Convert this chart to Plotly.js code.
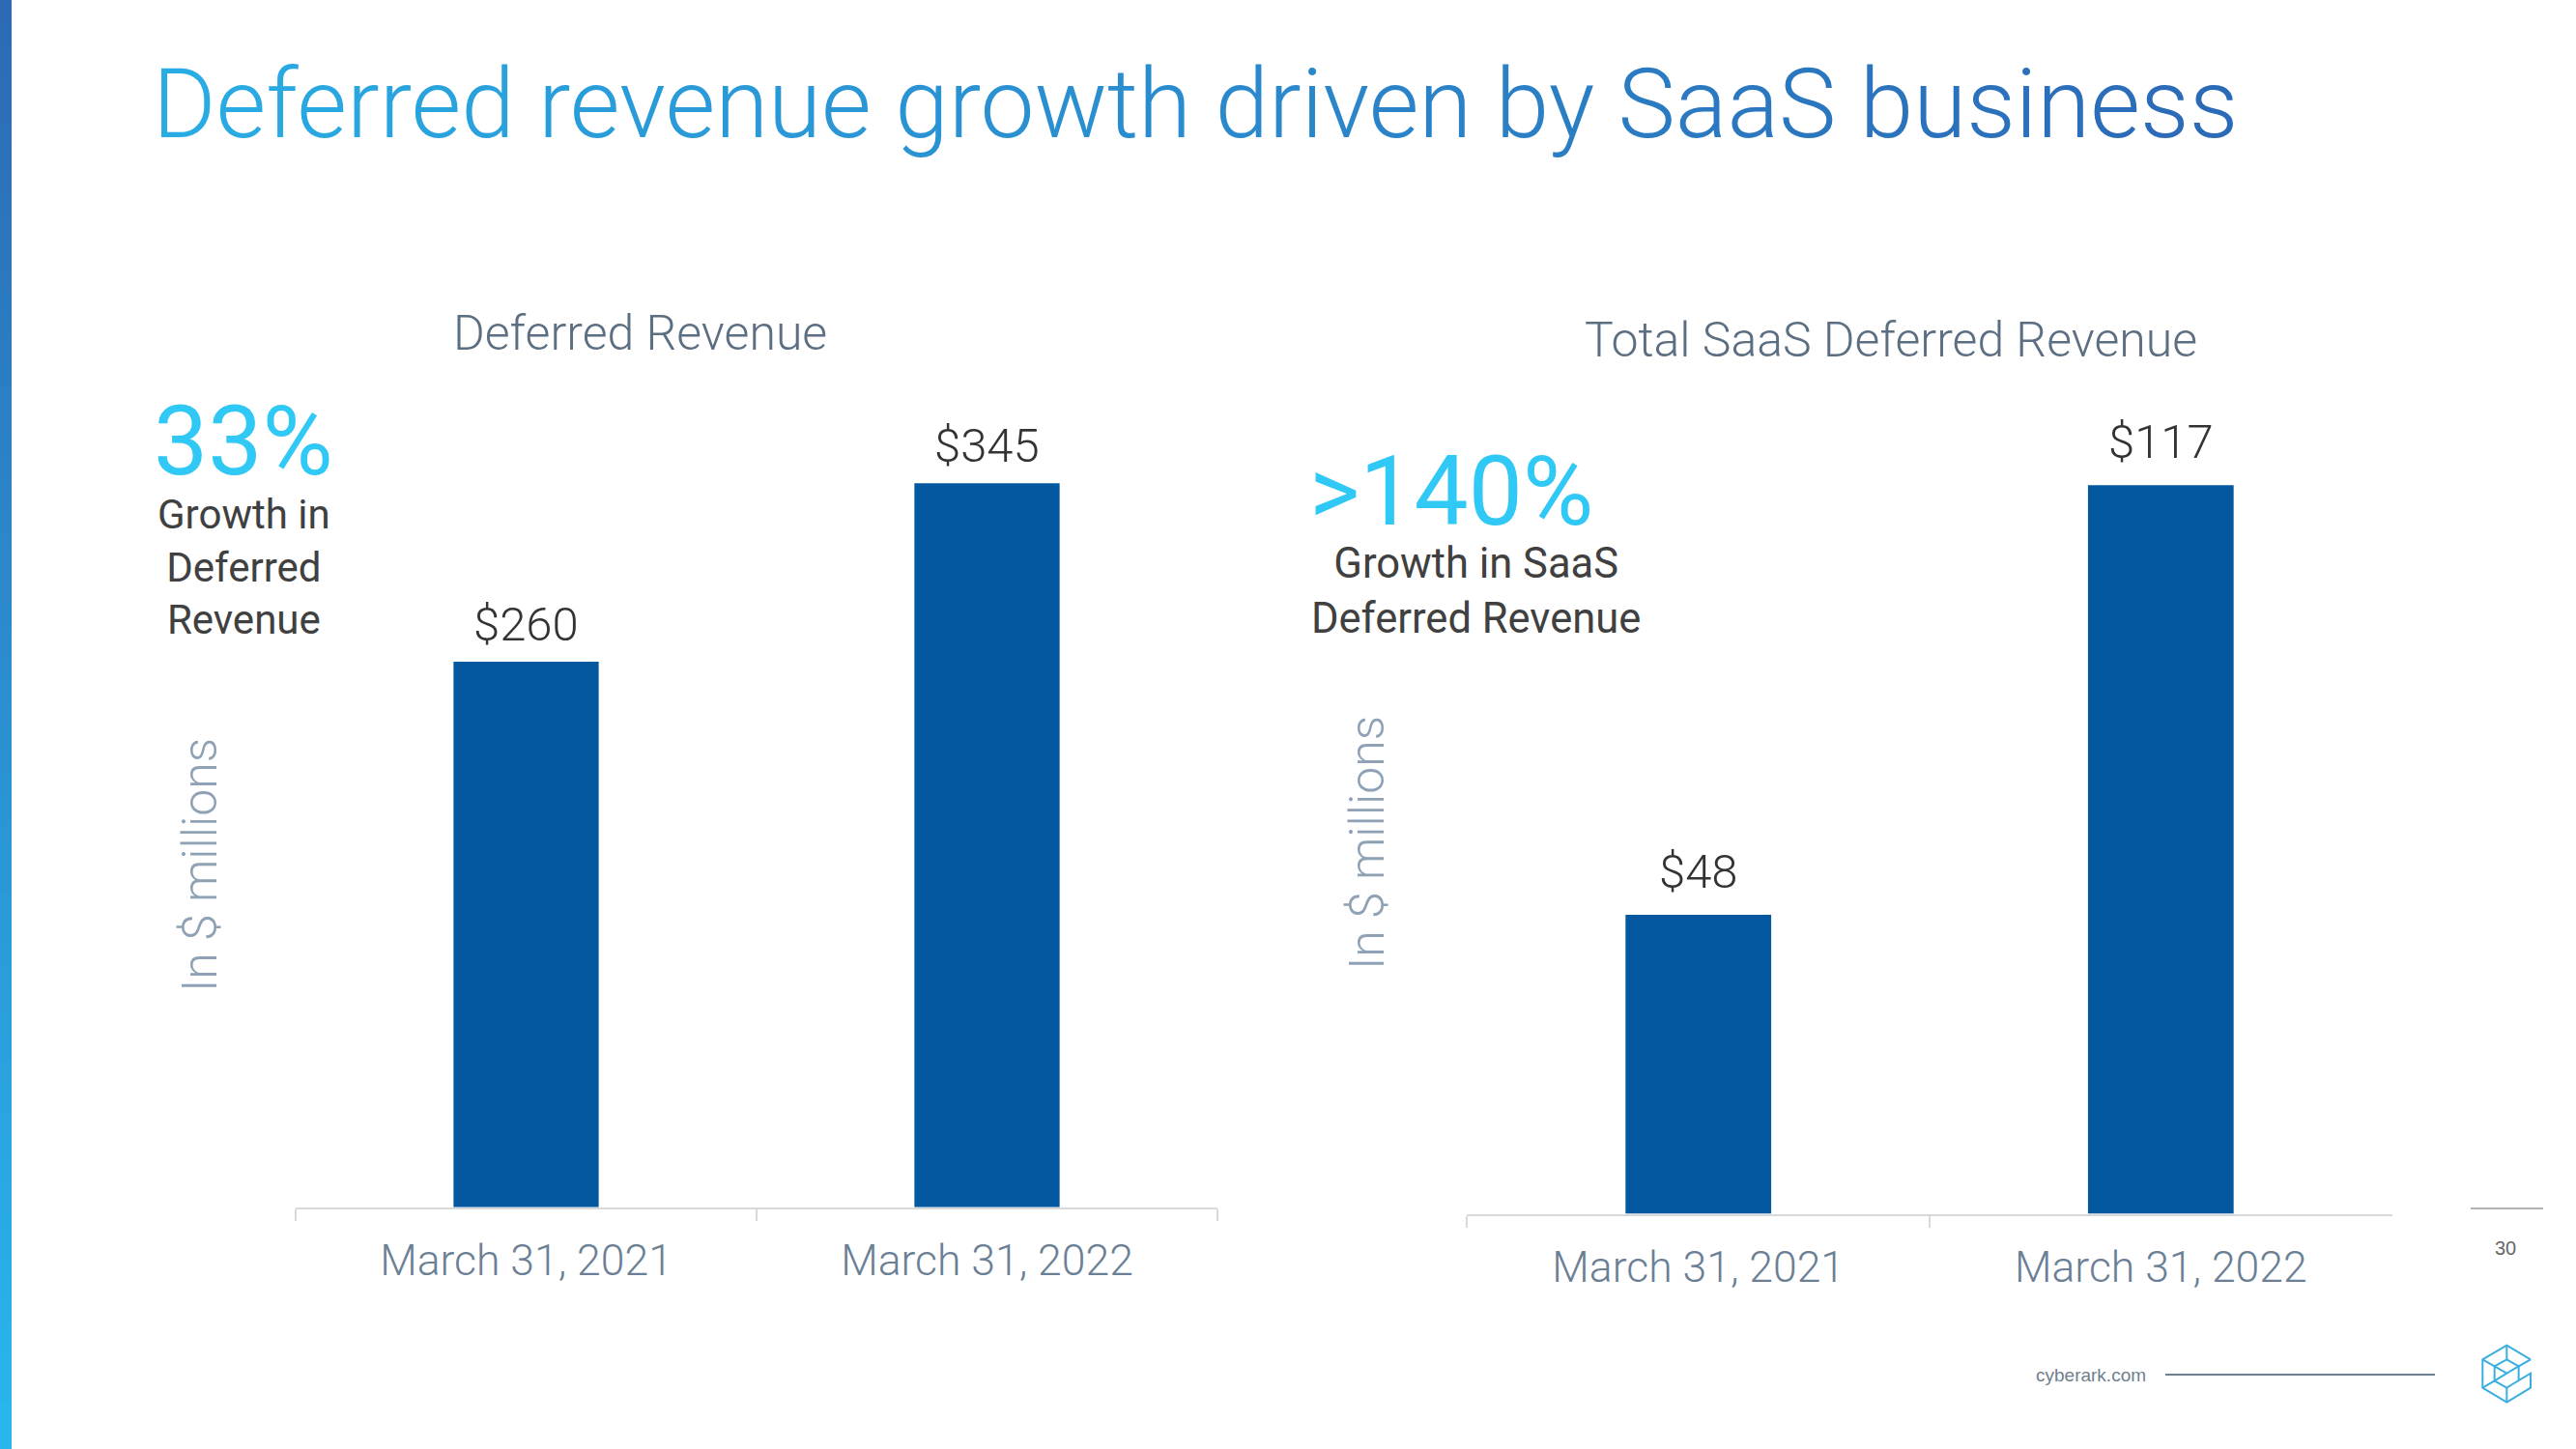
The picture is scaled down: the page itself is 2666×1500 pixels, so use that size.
<!DOCTYPE html>
<html><head><meta charset="utf-8">
<script src="https://cdn.plot.ly/plotly-3.0.1.min.js"></script>
<style>html,body{margin:0;padding:0;background:#fff;overflow:hidden}#chart{width:2666px;height:1500px;}</style>
</head><body><div id="chart"></div>
<script>
// ---- data ----
const categories = ["March 31, 2021", "March 31, 2022"];
const deferredRevenue = [260, 345];
const saasDeferredRevenue = [48, 117];
const chartTitle = "Deferred revenue growth driven by SaaS business";
const leftSubtitle = "Deferred Revenue";
const rightSubtitle = "Total SaaS Deferred Revenue";
const leftGrowth = "33%";
const leftGrowthText = ["Growth in", "Deferred", "Revenue"];
const rightGrowth = ">140%";
const rightGrowthText = ["Growth in SaaS", "Deferred Revenue"];
const unitLabel = "In $ millions";
const footerText = "cyberark.com";
const pageNumber = "30";

// ---- helpers ----
const W = 2666, H = 1500;
const px = x => x / W;
const py = y => 1 - y / H;
function lerp(a, b, t) { return Math.round(a + (b - a) * t); }
function mix(c1, c2, t) {
  return 'rgb(' + lerp(c1[0], c2[0], t) + ',' + lerp(c1[1], c2[1], t) + ',' + lerp(c1[2], c2[2], t) + ')';
}
function gradientText(str, c1, c2) {
  const chars = str.split('');
  return chars.map((ch, i) => '<span style="color:' + mix(c1, c2, i / (chars.length - 1)) + '">' + ch + '</span>').join('');
}

const barColor = '#03589f';
const axisColor = '#d9d9d9';
const tickColor = '#6b7f95';
const fontF = 'Roboto, "Noto Sans", sans-serif';

const money = v => '$' + v;

const traces = [
  {
    type: 'bar', x: categories, y: deferredRevenue, xaxis: 'x', yaxis: 'y',
    width: 0.315, marker: { color: barColor }, hoverinfo: 'skip'
  },
  {
    type: 'bar', x: categories, y: saasDeferredRevenue, xaxis: 'x2', yaxis: 'y2',
    width: 0.315, marker: { color: barColor }, hoverinfo: 'skip'
  }
];

const xBase = {
  type: 'category', tickson: 'boundaries', ticks: 'outside', ticklen: 12, tickwidth: 2,
  tickcolor: axisColor, showline: true, linecolor: axisColor, linewidth: 2,
  showgrid: false, zeroline: false, range: [-0.5, 1.5], fixedrange: true,
  ticklabelstandoff: 15,
  tickfont: { family: fontF, size: 44.5, color: tickColor, weight: 300 }
};
const yBase = { visible: false, showgrid: false, zeroline: false, fixedrange: true };

// strip gradient on the left edge
const shapes = [];
const nSeg = 60;
for (let i = 0; i < nSeg; i++) {
  shapes.push({
    type: 'rect', xref: 'paper', yref: 'paper', layer: 'above',
    x0: 0, x1: px(12), y0: py(H * i / nSeg), y1: py(H * (i + 1) / nSeg) - 0.0005,
    line: { width: 0 }, fillcolor: mix([44, 106, 180], [41, 182, 238], i / (nSeg - 1))
  });
}
// footer line
shapes.push({ type: 'line', xref: 'paper', yref: 'paper', x0: px(2241), x1: px(2520), y0: py(1423), y1: py(1423), line: { color: '#6b7f90', width: 2 } });
// short line above page number
shapes.push({ type: 'line', xref: 'paper', yref: 'paper', x0: px(2557), x1: px(2632), y0: py(1251), y1: py(1251), line: { color: '#9a9a9a', width: 1.5 } });
// logo (isometric cube outline), drawn in pixel space of a 330px box at (2540,1370)
(function () {
  const P = (zx, zy) => px(2540 + zx / 3).toFixed(5) + ',' + py(1370 + zy / 3).toFixed(5);
  const poly = pts => 'M' + pts.map(p => P(p[0], p[1])).join('L');
  const paths = [
    poly([[237, 112], [163, 68], [88, 112], [88, 200], [163, 245], [237, 200], [237, 155], [200, 177], [200, 133], [237, 112]]),
    poly([[163, 68], [163, 112]]),
    poly([[88, 112], [125, 133], [163, 112], [200, 133]]),
    poly([[125, 133], [125, 178], [163, 200], [200, 177]]),
    poly([[125, 133], [163, 155], [200, 133]]),
    poly([[125, 178], [163, 155]]),
    poly([[88, 200], [125, 178]]),
    poly([[163, 200], [163, 245]])
  ];
  paths.forEach(p => shapes.push({ type: 'path', xref: 'paper', yref: 'paper', path: p, line: { color: '#3aaee0', width: 2 } }));
})();

const cyan = '#30c8f5';
const dark = '#404040';
const subColor = '#5c6f82';
const unitColor = '#8fa1b5';

const ann = (o) => Object.assign({ xref: 'paper', yref: 'paper', showarrow: false, xanchor: 'center', yanchor: 'middle' }, o);
const valueFont = { family: fontF, size: 49, color: '#333333', weight: 300 };

const annotations = [
  ann({ text: gradientText(chartTitle, [41, 171, 228], [43, 106, 182]), x: px(156), y: py(107), xanchor: 'left', font: { family: fontF, size: 100, weight: 300 } }),
  ann({ text: leftSubtitle, x: px(662), y: py(345), font: { family: fontF, size: 50, color: subColor, weight: 300 } }),
  ann({ text: rightSubtitle, x: px(1957), y: py(352), font: { family: fontF, size: 50, color: subColor, weight: 300 } }),
  ann({ text: leftGrowth, x: px(252), y: py(456), font: { family: fontF, size: 100, color: cyan } }),
  ann({ text: leftGrowthText.join('<br>'), x: px(252), y: py(587), font: { family: fontF, size: 42, color: dark } }),
  ann({ text: rightGrowth, x: px(1502), y: py(509), font: { family: fontF, size: 100, color: cyan } }),
  ann({ text: rightGrowthText.join('<br>'), x: px(1527), y: py(612), font: { family: fontF, size: 43.5, color: dark } }),
  ann({ text: unitLabel, x: px(207), y: py(895), textangle: -90, font: { family: fontF, size: 50, color: unitColor, weight: 300 } }),
  ann({ text: unitLabel, x: px(1415), y: py(873), textangle: -90, font: { family: fontF, size: 50, color: unitColor, weight: 300 } }),
  ann({ text: footerText, x: px(2164), y: py(1423), font: { family: '"Liberation Sans", Arial, sans-serif', size: 19, color: '#6f7f8f' } }),
  ann({ text: pageNumber, x: px(2593), y: py(1292), font: { family: '"Liberation Sans", Arial, sans-serif', size: 20, color: '#666666' } })
];
// value labels, anchored on the bars through the axes
categories.forEach((c, i) => {
  annotations.push({ xref: 'x', yref: 'y', x: c, y: deferredRevenue[i], text: money(deferredRevenue[i]), showarrow: false, xanchor: 'center', yanchor: 'bottom', yshift: 8, font: valueFont });
  annotations.push({ xref: 'x2', yref: 'y2', x: c, y: saasDeferredRevenue[i], text: money(saasDeferredRevenue[i]), showarrow: false, xanchor: 'center', yanchor: 'bottom', yshift: 14, font: valueFont });
});

const layout = {
  width: W, height: H, margin: { l: 0, r: 0, t: 0, b: 0 },
  paper_bgcolor: '#ffffff', plot_bgcolor: 'rgba(0,0,0,0)', showlegend: false,
  font: { family: fontF },
  xaxis: Object.assign({}, xBase, { domain: [px(306), px(1260)], anchor: 'y' }),
  yaxis: Object.assign({}, yBase, { domain: [py(1249.7), py(1249.7 - 400 * 2.1722)], range: [0, 400], anchor: 'x' }),
  xaxis2: Object.assign({}, xBase, { domain: [px(1518.4), px(2475.6)], anchor: 'y2' }),
  yaxis2: Object.assign({}, yBase, { domain: [py(1256.5), py(1256.5 - 150 * 6.447)], range: [0, 150], anchor: 'x2' }),
  shapes: shapes,
  annotations: annotations
};

Plotly.newPlot('chart', traces, layout, { staticPlot: true, displayModeBar: false });
</script>
</body></html>
